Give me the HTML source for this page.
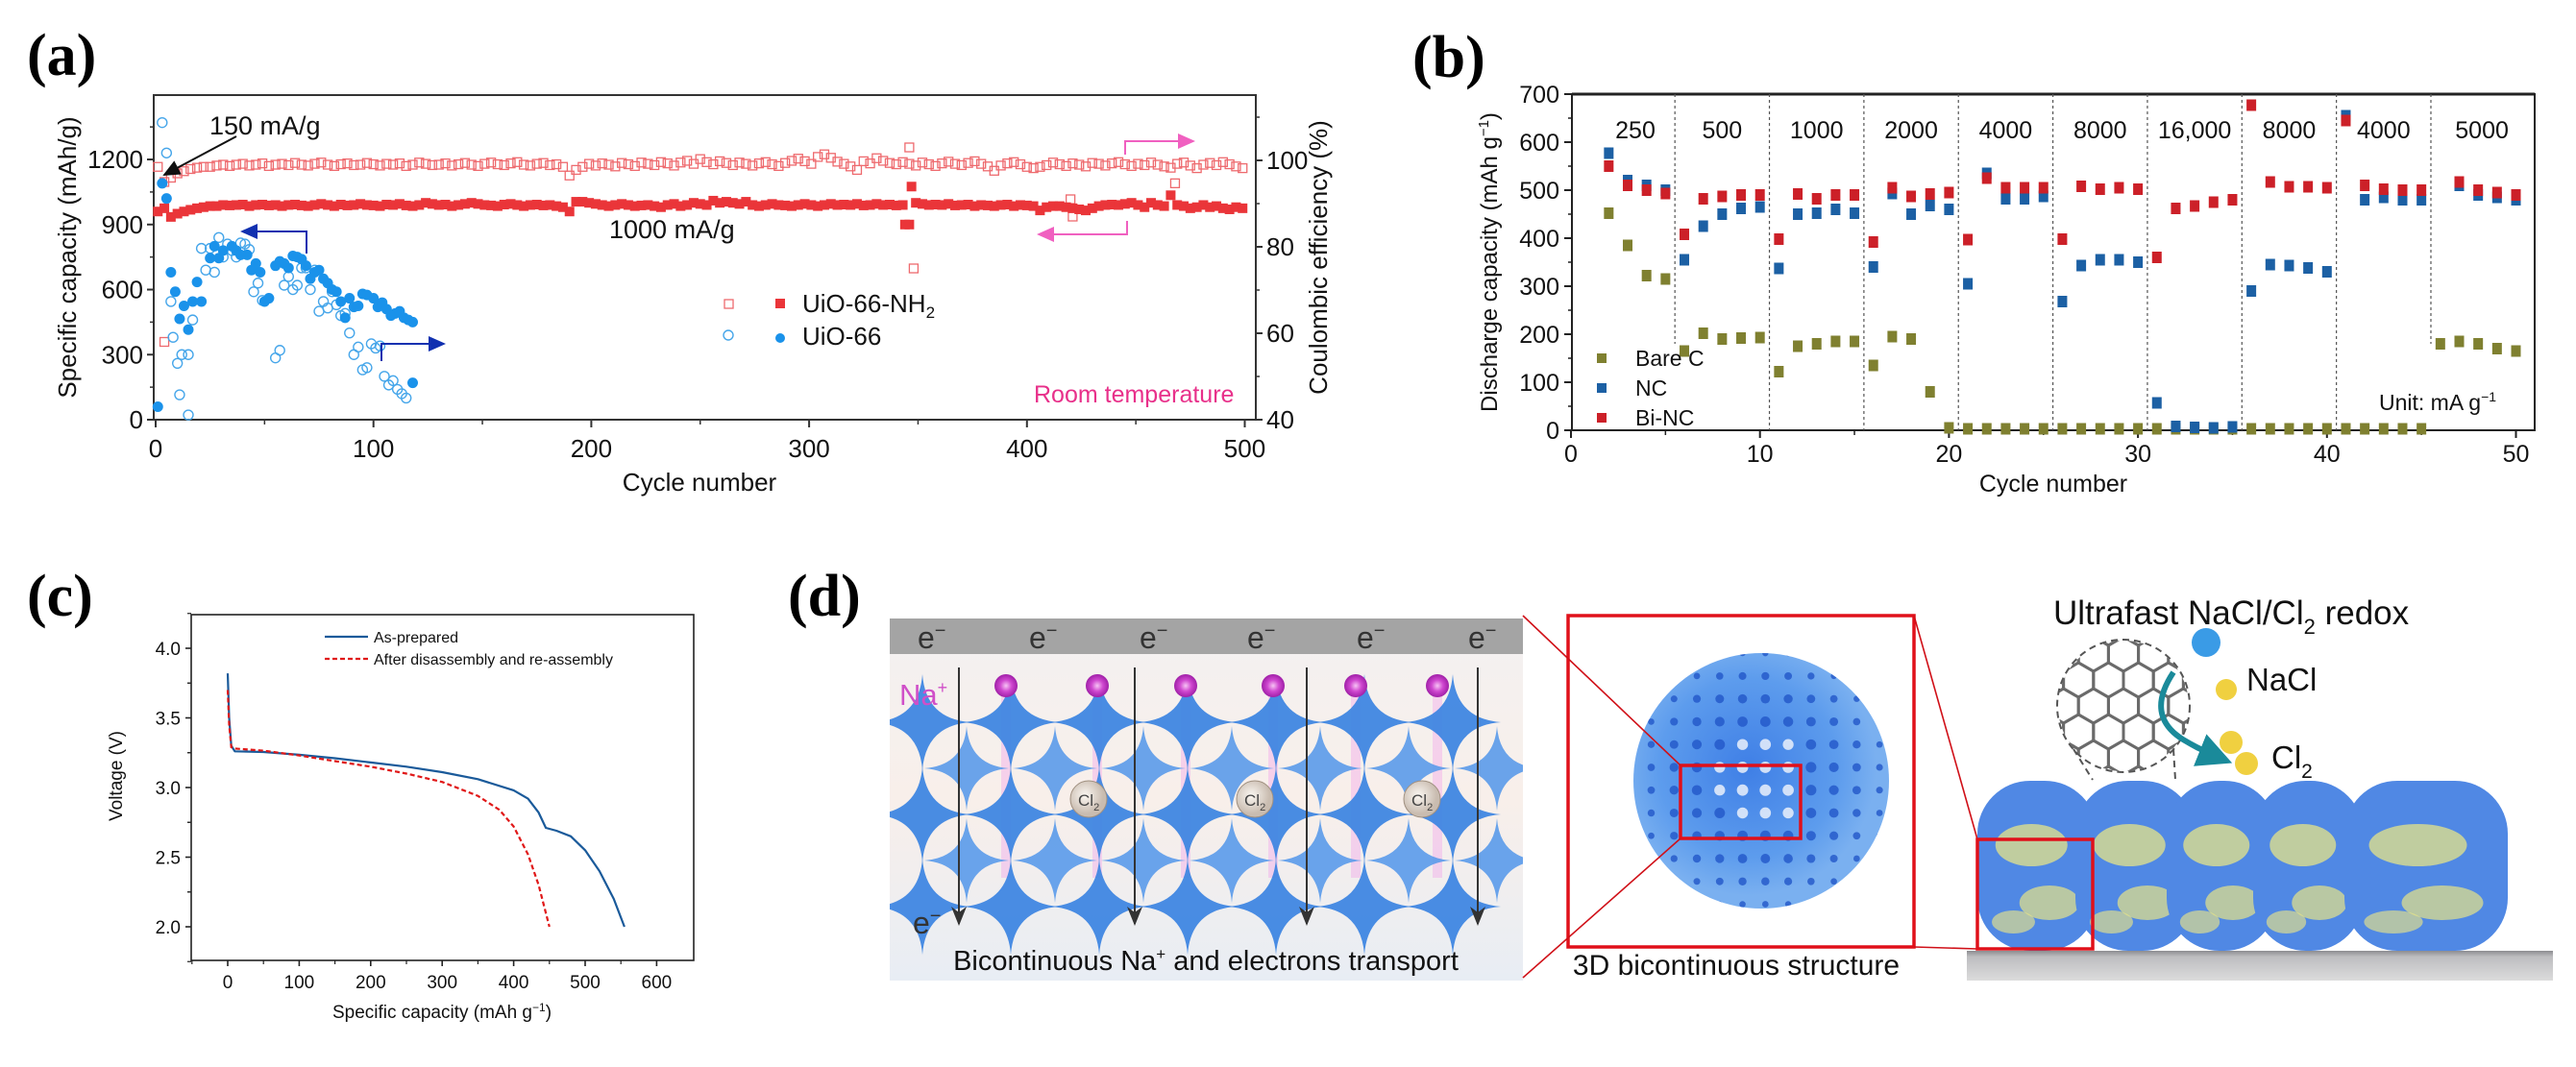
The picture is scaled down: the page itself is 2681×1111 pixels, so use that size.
<!DOCTYPE html>
<html><head><meta charset="utf-8">
<style>
html,body{margin:0;padding:0;background:#fff;}
svg{display:block;}
text{font-family:"Liberation Sans",sans-serif;}
.nar{font-family:"Liberation Sans Narrow","Liberation Sans",sans-serif;}
.lbl{font-family:"Liberation Serif",serif;font-weight:bold;font-size:62px;}
</style></head>
<body>
<svg id="fig" xmlns="http://www.w3.org/2000/svg" width="2681" height="1111" viewBox="0 0 2681 1111">
<defs>
 <linearGradient id="bgL" x1="0" y1="0" x2="0" y2="1">
  <stop offset="0" stop-color="#f3f1f1"/><stop offset="0.5" stop-color="#f8efea"/><stop offset="1" stop-color="#e8edf4"/>
 </linearGradient>
 <radialGradient id="naBall"><stop offset="0" stop-color="#f6c4f4"/><stop offset="0.5" stop-color="#d048d0"/><stop offset="1" stop-color="#a020a8"/></radialGradient>
 <radialGradient id="clBall" cx="0.4" cy="0.4"><stop offset="0" stop-color="#fbf7f2"/><stop offset="1" stop-color="#c9bcb0"/></radialGradient>
 <radialGradient id="sph" cx="0.45" cy="0.45"><stop offset="0" stop-color="#3f7fe6"/><stop offset="0.7" stop-color="#5d9ced"/><stop offset="1" stop-color="#7ab0f0"/></radialGradient>
 <linearGradient id="slab" x1="0" y1="0" x2="0" y2="1"><stop offset="0" stop-color="#8c8c90"/><stop offset="0.2" stop-color="#bdbdc0"/><stop offset="1" stop-color="#dcdcdc"/></linearGradient>
 <clipPath id="clipL"><rect x="926" y="681" width="659" height="340"/></clipPath>
 <clipPath id="clipG"><circle cx="2210" cy="735" r="68"/></clipPath>
 <clipPath id="clipS"><circle cx="1833" cy="813" r="133"/></clipPath>
 <marker id="arB" markerWidth="10" markerHeight="10" refX="8" refY="5" orient="auto"><path d="M0,1 L9,5 L0,9 Z" fill="#1030b0"/></marker>
 <marker id="arP" markerWidth="10" markerHeight="10" refX="8" refY="5" orient="auto"><path d="M0,1 L9,5 L0,9 Z" fill="#f060c0"/></marker>
 <marker id="arK" markerWidth="10" markerHeight="10" refX="8" refY="5" orient="auto"><path d="M0,1 L9,5 L0,9 Z" fill="#111"/></marker>
 <marker id="arD" markerWidth="8" markerHeight="10" refX="4" refY="9" orient="0"><path d="M0,0 L4,10 L8,0 L4,3 Z" fill="#333"/></marker>
 <marker id="arT" markerWidth="6" markerHeight="6" refX="4" refY="3" orient="auto"><path d="M0,0 L6,3 L0,6 Z" fill="#1a8a9a"/></marker>
</defs>

<text class="lbl" x="28" y="78">(a)</text>
<text class="lbl" x="1470" y="80">(b)</text>
<text class="lbl" x="28" y="641">(c)</text>
<text class="lbl" x="820" y="641">(d)</text>

<g id="pa"></g>
<g id="pb"></g>
<g id="pc"></g>

<g id="pd">
 <g>
  <rect x="926" y="644" width="659" height="377" fill="url(#bgL)"/>
  <rect x="926" y="644" width="659" height="37" fill="#a4a4a4"/>
  <g id="glow" clip-path="url(#clipL)"></g>
  <g id="stars" clip-path="url(#clipL)"></g>
  <g id="naballs"></g>
  <g id="cl2"></g>
  <g id="earrows"></g>
  <g font-size="32" fill="#333">
   <text x="955" y="675">e<tspan font-size="20" dy="-12">−</tspan></text>
   <text x="1071" y="675">e<tspan font-size="20" dy="-12">−</tspan></text>
   <text x="1186" y="675">e<tspan font-size="20" dy="-12">−</tspan></text>
   <text x="1298" y="675">e<tspan font-size="20" dy="-12">−</tspan></text>
   <text x="1412" y="675">e<tspan font-size="20" dy="-12">−</tspan></text>
   <text x="1528" y="675">e<tspan font-size="20" dy="-12">−</tspan></text>
  </g>
  <text x="936" y="734" font-size="31" fill="#d04fc8">Na<tspan font-size="18" dy="-12">+</tspan></text>
  <text x="950" y="972" font-size="32" fill="#333">e<tspan font-size="20" dy="-12">−</tspan></text>
  <text x="1255" y="1010" font-size="29" fill="#111" text-anchor="middle">Bicontinuous Na<tspan font-size="17" dy="-11">+</tspan><tspan dy="11"> and electrons transport</tspan></text>
 </g>
 <g>
  <circle cx="1833" cy="813" r="133" fill="url(#sph)"/>
  <g id="holes" clip-path="url(#clipS)"></g>
  <rect x="1632" y="641" width="360" height="345" fill="none" stroke="#e0101a" stroke-width="3.5"/>
  <rect x="1749" y="797" width="125" height="76" fill="none" stroke="#e0101a" stroke-width="3.5"/>
  <line x1="1585" y1="641" x2="1749" y2="797" stroke="#d01018" stroke-width="1.6"/>
  <line x1="1585" y1="1018" x2="1749" y2="873" stroke="#d01018" stroke-width="1.6"/>
  <text x="1807" y="1015" font-size="30" fill="#111" text-anchor="middle">3D bicontinuous structure</text>
 </g>
 <g>
  <line x1="1992" y1="641" x2="2058" y2="874" stroke="#d01018" stroke-width="1.6"/>
  <line x1="1992" y1="986" x2="2058" y2="988" stroke="#d01018" stroke-width="1.6"/>
  <polygon points="2047,990 2657,990 2657,1021 2047,1021" fill="url(#slab)"/>
  <g id="rods"></g>
  <rect x="2058" y="874" width="120" height="114" fill="none" stroke="#e0101a" stroke-width="3.5"/>
  <circle cx="2210" cy="735" r="69" fill="#fff" stroke="#555" stroke-width="2" stroke-dasharray="7,5"/>
  <g id="graph" clip-path="url(#clipG)"></g>
  <line x1="2158" y1="780" x2="2178" y2="812" stroke="#555" stroke-width="2" stroke-dasharray="7,5"/>
  <line x1="2262" y1="780" x2="2264" y2="812" stroke="#555" stroke-width="2" stroke-dasharray="7,5"/>
  <path d="M2262,700 Q2232,745 2272,770 Q2292,782 2312,790" fill="none" stroke="#1a8a9a" stroke-width="6" marker-end="url(#arT)"/>
  <circle cx="2296" cy="669" r="15" fill="#3a9be6"/>
  <circle cx="2317" cy="718" r="11" fill="#f0d040"/>
  <circle cx="2322" cy="773" r="12" fill="#f0d040"/>
  <circle cx="2338" cy="795" r="12" fill="#f0d040"/>
  <text x="2338" y="719" font-size="33" fill="#111">NaCl</text>
  <text x="2364" y="800" font-size="33" fill="#111">Cl<tspan font-size="21" dy="10">2</tspan></text>
  <text x="2137" y="650" font-size="35" fill="#111">Ultrafast NaCl/Cl<tspan font-size="22" dy="10">2</tspan><tspan dy="-10"> redox</tspan></text>
 </g>
</g>
</svg>

<script>
// ================= PANEL A DATA =================
const aCapStartCycle = 1;
const aCapStep = 3;
const aCapNH2 = [960,975,935,950,960,968,975,980,985,985,990,988,990,992,985,990,992,988,990,985,990,992,988,985,990,995,990,985,992,988,990,995,990,988,985,992,990,995,988,985,990,1000,995,990,992,985,990,995,1000,995,990,988,985,992,995,990,985,990,992,988,990,985,980,960,1005,1005,1000,995,990,985,990,995,990,985,988,990,985,980,990,995,985,990,1000,995,990,1010,1000,1005,1000,995,1005,990,985,990,995,990,988,985,990,995,990,985,990,995,990,992,990,995,988,990,995,990,992,988,990,900,1000,995,990,992,990,995,988,990,992,985,990,988,985,990,992,985,990,988,985,965,980,985,985,980,975,970,965,975,985,990,992,990,995,1000,990,980,1000,990,985,1035,990,985,975,980,990,980,985,975,970,980,975];
const aCeNH2 = [98.5,95,96,97,97.5,98,98.3,98.5,98.5,98.8,99,98.7,99,99.2,98.8,99,99.3,98.7,99,99.2,98.9,99.4,99,98.8,99.2,99.5,99,98.7,99.1,99.3,98.9,99,99.4,99.1,98.8,99.2,99,99.3,98.7,99,99.5,99.2,98.9,99,99.3,98.8,99.1,99.4,99,98.7,99.2,99.5,99.1,98.9,99.3,99.6,99,98.8,99.2,99.4,98.9,99.1,98.5,96.5,97.8,98.5,99.2,98.8,99.3,99,98.6,99.4,99.1,98.7,99.5,99.2,98.9,99.6,99.3,98.8,99.5,99.9,99.2,100.3,99.6,99.1,99.8,99.4,98.9,99.5,99.2,98.8,99.3,99.6,99.1,98.7,99.4,99.9,100.4,99.8,99.2,100.8,101.4,100.6,99.7,99.2,98.6,97.8,99.8,99.3,100.5,99.9,99.4,99.1,99.6,99.2,98.8,99.5,99.1,98.7,99.3,99.7,99.2,98.9,99.4,99.8,99.2,98.6,97.6,98.8,99.3,99.6,99.1,98.5,98.2,98.5,98.9,99.5,99.1,98.7,99.3,99,98.6,99.4,99.2,98.8,99.3,99.6,99.1,98.7,99.2,98.9,99.5,99,98.6,98.3,99.2,99.5,98.8,98.2,99.0,99.4,98.9,99.6,99.1,98.6,98.2,98.9,99.5,99.2,98.4,97.8];
const aExtraCeCycles = [4,346,348,420,421,468];
const aExtraCeValues = [58,103,75,91,87,94.7];
const aExtraCapCycles = [344,347];
const aExtraCapValues = [900,1075];
const aUioFilledCycles = [1,3,5,7,9,11,13,15,17,19,21,25,27,29,31,35,37,39,42,44,46,48,50,52,55,57,59,61,63,65,67,69,71,73,75,77,79,81,83,85,87,89,91,93,95,97,100,102,104,106,108,110,112,114,116,118,118];
const aUioFilledValues = [60,1090,1020,680,590,465,525,415,545,635,545,745,800,745,780,800,780,760,760,690,720,680,545,560,710,730,720,700,755,750,740,710,650,680,690,650,630,600,590,545,470,560,520,525,580,575,560,520,540,510,480,490,500,470,460,450,170];
const aUioOpenCycles = [3,5,7,8,10,11,12,15,15,17,21,23,25,27,29,31,33,35,37,39,41,43,45,47,49,55,57,59,61,63,65,67,69,71,73,75,77,79,81,83,85,87,89,91,93,95,97,99,101,103,105,107,109,111,113,115];
const aUioOpenValues = [1370,1230,545,380,260,115,300,300,22,460,790,690,790,680,840,750,810,780,750,815,810,785,590,630,550,285,320,620,660,600,620,700,700,600,690,500,545,515,590,530,480,490,400,300,335,230,240,350,330,340,200,160,180,140,120,100];
const aXTicks = [0,100,200,300,400,500];
const aYTicks = [0,300,600,900,1200];
const aY2Ticks = [40,60,80,100];

// ================= PANEL B DATA =================
const bCycles = [2,3,4,5,6,7,8,9,10,11,12,13,14,15,16,17,18,19,20,21,22,23,24,25,26,27,28,29,30,31,32,33,34,35,36,37,38,39,40,41,42,43,44,45,46,47,48,49,50];
const bBareC = [452,385,322,315,165,202,190,192,193,122,175,180,185,185,135,195,190,80,5,3,3,3,3,3,3,3,3,3,3,3,3,3,3,3,3,3,3,3,3,3,3,3,3,3,180,185,180,170,165];
const bNC = [577,520,510,500,355,425,450,462,465,337,450,452,460,452,340,493,450,468,460,305,535,482,482,487,268,343,355,355,350,57,8,6,5,7,290,345,343,338,330,655,480,485,480,480,null,510,490,485,480];
const bBiNC = [550,510,500,493,408,482,487,490,490,398,492,482,490,490,392,505,487,492,495,397,525,505,505,505,398,508,502,505,502,360,462,467,475,480,677,517,507,507,505,645,510,502,500,500,null,517,500,495,490];
const bRates = ["250","500","1000","2000","4000","8000","16,000","8000","4000","5000"];
const bDividers = [5.5,10.5,15.5,20.5,25.5,30.5,35.5,40.5,45.5];
const bXTicks = [0,10,20,30,40,50];
const bYTicks = [0,100,200,300,400,500,600,700];

// ================= PANEL C DATA =================
const cAsCap = [0,2,5,10,50,100,150,200,250,300,350,400,420,435,445,460,480,500,520,540,555];
const cAsV = [3.82,3.5,3.3,3.26,3.255,3.235,3.21,3.18,3.15,3.11,3.06,2.98,2.92,2.82,2.71,2.69,2.65,2.55,2.4,2.2,2.0];
const cReCap = [0,2,5,10,50,100,150,200,250,300,350,380,400,420,435,450];
const cReV = [3.7,3.45,3.29,3.28,3.265,3.23,3.19,3.15,3.1,3.04,2.94,2.84,2.72,2.52,2.3,2.0];
const cXTicks = [0,100,200,300,400,500,600];
const cYTicks = [2.0,2.5,3.0,3.5,4.0];

const NS = "http://www.w3.org/2000/svg";
function mk(tag, attrs, parent){const e=document.createElementNS(NS,tag);for(const k in attrs)e.setAttribute(k,attrs[k]);parent.appendChild(e);return e;}

// ---------- Panel A ----------
const pa = document.getElementById('pa');
const xA = c => 162 + c*2.267;
const yA = v => 437 - v*0.2258;
const yCE = p => 167 + (100-p)*4.5;
let el;
el = mk('rect',{x:160,y:99,width:1147,height:338,fill:'none',stroke:'#333','stroke-width':2},pa);


aXTicks.forEach(t=>{
  mk('line',{x1:xA(t),y1:437,x2:xA(t),y2:445,stroke:'#333','stroke-width':2},pa);
  if(t<500) mk('line',{x1:xA(t+50),y1:437,x2:xA(t+50),y2:442,stroke:'#333','stroke-width':1.5},pa);
  el = mk('text',{x:xA(t),y:476,'font-size':26,'text-anchor':'middle',class:'nar',fill:'#111'},pa);
  el.textContent=t;
  
  
});
aYTicks.forEach(t=>{
  mk('line',{x1:153,y1:yA(t),x2:160,y2:yA(t),stroke:'#333','stroke-width':2},pa);
  mk('line',{x1:156,y1:yA(t+150),x2:160,y2:yA(t+150),stroke:'#333','stroke-width':1.5},pa);
  el = mk('text',{x:149,y:yA(t)+9,'font-size':26,'text-anchor':'end',class:'nar',fill:'#111'},pa);
  el.textContent=t;
  
  
});
aY2Ticks.forEach(t=>{
  mk('line',{x1:1307,y1:yCE(t),x2:1314,y2:yCE(t),stroke:'#333','stroke-width':2},pa);
  mk('line',{x1:1307,y1:yCE(t+10),x2:1311,y2:yCE(t+10),stroke:'#333','stroke-width':1.5},pa);
  el = mk('text',{x:1318,y:yCE(t)+9,'font-size':26,class:'nar',fill:'#111'},pa);
  el.textContent=t;
  
  
});
el = mk('text',{x:728,y:511,'font-size':26,'text-anchor':'middle',class:'nar',fill:'#111'},pa);
el.textContent='Cycle number';


el = mk('text',{x:0,y:0,'font-size':26,'text-anchor':'middle',fill:'#111',transform:'translate(79,268) rotate(-90)'},pa);
el.textContent='Specific capacity (mAh/g)';


el = mk('text',{x:0,y:0,'font-size':26,'text-anchor':'middle',fill:'#111',transform:'translate(1381,268) rotate(-90)'},pa);
el.textContent='Coulombic efficiency (%)';



const gCe = mk('g',{},pa);


aCeNH2.forEach((v,i)=>{
  const c = aCapStartCycle + i*aCapStep;
  if(c>500) return;
  el = mk('rect',{x:xA(c)-4.5,y:yCE(v)-4.5,width:9,height:9,fill:'none',stroke:'#ee6a6e','stroke-width':1.3},gCe);
  
});
aExtraCeCycles.forEach((c,i)=>{
  el = mk('rect',{x:xA(c)-4.5,y:yCE(aExtraCeValues[i])-4.5,width:9,height:9,fill:'none',stroke:'#ee6a6e','stroke-width':1.3},gCe);
  
});
const gCap = mk('g',{},pa);


aCapNH2.forEach((v,i)=>{
  const c = aCapStartCycle + i*aCapStep;
  if(c>500) return;
  el = mk('rect',{x:xA(c)-5,y:yA(v)-5,width:10,height:10,fill:'#ea3539'},gCap);
  
});
aExtraCapCycles.forEach((c,i)=>{
  el = mk('rect',{x:xA(c)-5,y:yA(aExtraCapValues[i])-5,width:10,height:10,fill:'#ea3539'},gCap);
  
});
const gUo = mk('g',{},pa);


aUioOpenCycles.forEach((c,i)=>{
  el = mk('circle',{cx:xA(c),cy:yA(aUioOpenValues[i]),r:5,fill:'none',stroke:'#46a6ea','stroke-width':1.4},gUo);
  
});
const gUf = mk('g',{},pa);


aUioFilledCycles.forEach((c,i)=>{
  el = mk('circle',{cx:xA(c),cy:yA(aUioFilledValues[i]),r:5.5,fill:'#1a92ea'},gUf);
  
});
el = mk('text',{x:218,y:140,'font-size':27,class:'nar',fill:'#111'},pa);
el.textContent='150 mA/g';


mk('line',{x1:246,y1:142,x2:171,y2:182,stroke:'#111','stroke-width':2,'marker-end':'url(#arK)'},pa);
el = mk('text',{x:634,y:248,'font-size':27,class:'nar',fill:'#111'},pa);
el.textContent='1000 mA/g';


mk('path',{d:'M319,264 L319,241 L252,241',fill:'none',stroke:'#1030b0','stroke-width':2,'marker-end':'url(#arB)'},pa);
mk('path',{d:'M397,376 L397,358 L462,358',fill:'none',stroke:'#1030b0','stroke-width':2,'marker-end':'url(#arB)'},pa);
mk('path',{d:'M1171,161 L1171,147 L1242,147',fill:'none',stroke:'#f060c0','stroke-width':2,'marker-end':'url(#arP)'},pa);
mk('path',{d:'M1173,230 L1173,244 L1081,244',fill:'none',stroke:'#f060c0','stroke-width':2,'marker-end':'url(#arP)'},pa);
el = mk('text',{x:1076,y:419,'font-size':25,class:'nar',fill:'#e8308a'},pa);
el.textContent='Room temperature';


const lgA = mk('g',{},pa);


mk('rect',{x:754,y:312,width:9,height:9,fill:'none',stroke:'#ee6a6e','stroke-width':1.3},lgA);
mk('rect',{x:807,y:311,width:10,height:10,fill:'#ea3539'},lgA);
mk('circle',{cx:758,cy:349,r:5,fill:'none',stroke:'#46a6ea','stroke-width':1.4},lgA);
mk('circle',{cx:812,cy:352,r:5,fill:'#1a92ea'},lgA);
el = mk('text',{x:835,y:325,'font-size':26,class:'nar',fill:'#111'},lgA);
el.innerHTML='UiO-66-NH<tspan font-size="17" dy="6">2</tspan>';

el = mk('text',{x:835,y:359,'font-size':26,class:'nar',fill:'#111'},lgA);
el.textContent='UiO-66';


// ---------- Panel B ----------
const pb = document.getElementById('pb');
const xB = c => 1635 + c*19.67;
const yB = v => 448 - v*0.5;
el = mk('rect',{x:1636,y:98,width:1002,height:350,fill:'none',stroke:'#222','stroke-width':2},pb);


mk('line',{x1:1636,y1:98,x2:2638,y2:98,stroke:'#222','stroke-width':3},pb);
bDividers.forEach((d,i)=>{
  const bottom = (d===5.5||d===45.5)?358:448;
  el = mk('line',{x1:xB(d),y1:98,x2:xB(d),y2:bottom,stroke:'#555','stroke-width':1.2,'stroke-dasharray':'3,3'},pb);
  
});
bRates.forEach((r,i)=>{
  const lo = i===0?0.5:bDividers[i-1], hi = i===bRates.length-1?50.9:bDividers[i];
  el = mk('text',{x:xB((lo+hi)/2)+ (i===0?8:0),y:144,'font-size':25,'text-anchor':'middle',class:'nar',fill:'#111'},pb);
  el.textContent=r;
  
  
});
bXTicks.forEach(t=>{
  mk('line',{x1:xB(t),y1:448,x2:xB(t),y2:456,stroke:'#222','stroke-width':2},pb);
  if(t<50) mk('line',{x1:xB(t+5),y1:448,x2:xB(t+5),y2:453,stroke:'#222','stroke-width':1.5},pb);
  el = mk('text',{x:xB(t),y:481,'font-size':25,'text-anchor':'middle',fill:'#111'},pb);
  el.textContent=t;
  
  
});
bYTicks.forEach(t=>{
  mk('line',{x1:1628,y1:yB(t),x2:1636,y2:yB(t),stroke:'#222','stroke-width':2},pb);
  if(t<700) mk('line',{x1:1632,y1:yB(t+50),x2:1636,y2:yB(t+50),stroke:'#222','stroke-width':1.5},pb);
  el = mk('text',{x:1623,y:yB(t)+9,'font-size':25,'text-anchor':'end',class:'nar',fill:'#111'},pb);
  el.textContent=t;
  
  
});
el = mk('text',{x:2137,y:512,'font-size':25,'text-anchor':'middle',fill:'#111'},pb);
el.textContent='Cycle number';


el = mk('text',{x:0,y:0,'font-size':24,'text-anchor':'middle',fill:'#111',transform:'translate(1558,273) rotate(-90)'},pb);
el.innerHTML='Discharge capacity (mAh g<tspan font-size="15" dy="-9">−1</tspan><tspan dy="9">)</tspan>';


function bSeries(vals,color,name){
  const g = mk('g',{},pb);
  
  
  vals.forEach((v,i)=>{
    if(v===null) return;
    el = mk('rect',{x:xB(bCycles[i])-5,y:yB(v)-6,width:10,height:12,fill:color},g);
    
  });
}
bSeries(bBareC,'#7f8030','series-bare-c');
bSeries(bNC,'#1c60a4','series-nc');
bSeries(bBiNC,'#cc2028','series-bi-nc');
const lgB = mk('g',{},pb);


[['Bare C','#7f8030'],['NC','#1c60a4'],['Bi-NC','#cc2028']].forEach((p,i)=>{
  mk('rect',{x:1662,y:368+i*31,width:10,height:10,fill:p[1]},lgB);
  el = mk('text',{x:1702,y:381+i*31,'font-size':23,fill:'#111'},lgB);
  el.textContent=p[0];
  
});
el = mk('text',{x:2476,y:427,'font-size':23,fill:'#111'},pb);
el.innerHTML='Unit: mA g<tspan font-size="14" dy="-9">−1</tspan>';



// ---------- Panel C ----------
const pc = document.getElementById('pc');
const xC = v => 237 + v*0.744;
const yC = v => 965 - (v-2)*145;
el = mk('rect',{x:199,y:640,width:523,height:360,fill:'none',stroke:'#222','stroke-width':1.6},pc);


cXTicks.forEach(t=>{
  mk('line',{x1:xC(t),y1:1000,x2:xC(t),y2:1006,stroke:'#222','stroke-width':1.6},pc);
  mk('line',{x1:xC(t-50),y1:1000,x2:xC(t-50),y2:1004,stroke:'#222','stroke-width':1.2},pc);
  el = mk('text',{x:xC(t),y:1029,'font-size':19,'text-anchor':'middle',fill:'#111'},pc);
  el.textContent=t;
  
  
});
cYTicks.forEach(t=>{
  mk('line',{x1:193,y1:yC(t),x2:199,y2:yC(t),stroke:'#222','stroke-width':1.6},pc);
  mk('line',{x1:195,y1:yC(t+0.25),x2:199,y2:yC(t+0.25),stroke:'#222','stroke-width':1.2},pc);
  mk('line',{x1:195,y1:yC(t-0.25),x2:199,y2:yC(t-0.25),stroke:'#222','stroke-width':1.2},pc);
  el = mk('text',{x:188,y:yC(t)+7,'font-size':19,'text-anchor':'end',fill:'#111'},pc);
  el.textContent=t.toFixed(1);
  
  
});
el = mk('text',{x:460,y:1060,'font-size':19,'text-anchor':'middle',fill:'#111'},pc);
el.innerHTML='Specific capacity (mAh g<tspan font-size="12" dy="-7">−1</tspan><tspan dy="7">)</tspan>';


el = mk('text',{x:0,y:0,'font-size':19,'text-anchor':'middle',fill:'#111',transform:'translate(127,808) rotate(-90)'},pc);
el.textContent='Voltage (V)';


function cLine(xs,ys){return xs.map((x,i)=>(i?'L':'M')+xC(x).toFixed(1)+','+yC(ys[i]).toFixed(1)).join(' ');}
el = mk('path',{d:cLine(cAsCap,cAsV),fill:'none',stroke:'#1a5a9a','stroke-width':2.2,'stroke-linejoin':'round'},pc);


el = mk('path',{d:cLine(cReCap,cReV),fill:'none',stroke:'#e01818','stroke-width':2.2,'stroke-dasharray':'5,3'},pc);


const lgC = mk('g',{},pc);


mk('line',{x1:338,y1:663,x2:383,y2:663,stroke:'#1a5a9a','stroke-width':2.2},lgC);
mk('line',{x1:338,y1:686,x2:383,y2:686,stroke:'#e01818','stroke-width':2.2,'stroke-dasharray':'5,3'},lgC);
el = mk('text',{x:389,y:669,'font-size':16,fill:'#111'},lgC);
el.textContent='As-prepared';

el = mk('text',{x:389,y:692,'font-size':16,fill:'#111'},lgC);
el.textContent='After disassembly and re-assembly';


// ---------- Panel D decorative ----------
const stars = document.getElementById('stars');
function star(cx,cy,r){const k=r*0.07;return `M${cx},${cy-r} Q${cx+k},${cy-k} ${cx+r},${cy} Q${cx+k},${cy+k} ${cx},${cy+r} Q${cx-k},${cy+k} ${cx-r},${cy} Q${cx-k},${cy-k} ${cx},${cy-r} Z`;}
for(let x=960;x<1600;x+=92){
  [752,848,944].forEach(y=>{ el=mk('path',{d:star(x,y,50),fill:'#3f86e2',opacity:0.95},stars);  });
  [800,896].forEach(y=>{ el=mk('path',{d:star(x+46,y,44),fill:'#5a9aea',opacity:0.9},stars);  });
}
const glow = document.getElementById('glow');
const naXs=[1047,1142,1234,1325,1411,1496];
naXs.forEach(x=>{ mk('rect',{x:x-5,y:714,width:10,height:200,fill:'#f080e8',opacity:0.28},glow); });
const nab = document.getElementById('naballs');
naXs.forEach(x=>{ el=mk('circle',{cx:x,cy:714,r:12,fill:'url(#naBall)'},nab);  });
const cl2 = document.getElementById('cl2');
[1133,1306,1480].forEach(x=>{
  el=mk('circle',{cx:x,cy:832,r:19,fill:'url(#clBall)',stroke:'#a09080','stroke-width':1},cl2);
  
  el=mk('text',{x:x-11,y:839,'font-size':17,fill:'#444'},cl2);
  el.innerHTML='Cl<tspan font-size="11" dy="5">2</tspan>';
});
const ear = document.getElementById('earrows');
[998,1181,1360,1538].forEach(x=>{ el=mk('line',{x1:x,y1:695,x2:x,y2:962,stroke:'#333','stroke-width':2,'marker-end':'url(#arD)'},ear);  });
const holes = document.getElementById('holes');
for(let y=690;y<950;y+=22){for(let x=1705;x<1965;x+=22){
  const dx=x-1833, dy=y-813, d=Math.sqrt(dx*dx+dy*dy)/133;
  const r = 6*(1-0.55*d*d);
  if(r>1.5){ mk('circle',{cx:x+dx*0.08,cy:y+dy*0.08,r:r,fill: d<0.35?'#f4f6fb':'#2256c8',opacity:0.8},holes); }
}}
const rods = document.getElementById('rods');
[[2058,125],[2160,125],[2255,115],[2345,115],[2440,170]].forEach((p,i)=>{
  el=mk('rect',{x:p[0],y:813,width:p[1],height:177,rx:55,ry:55,fill:'#5088e4'},rods);
  
  mk('ellipse',{cx:p[0]+p[1]*0.45,cy:880,rx:p[1]*0.3,ry:22,fill:'#e6e488',opacity:0.75},rods);
  mk('ellipse',{cx:p[0]+p[1]*0.6,cy:940,rx:p[1]*0.25,ry:18,fill:'#e6e488',opacity:0.7},rods);
  mk('ellipse',{cx:p[0]+p[1]*0.3,cy:960,rx:p[1]*0.18,ry:12,fill:'#e6e488',opacity:0.65},rods);
});
const graph = document.getElementById('graph');
const hs=18, hw=hs*Math.sqrt(3);
for(let row=-4;row<=4;row++){for(let col=-4;col<=4;col++){
  const cx=2210+col*hw+(row%2?hw/2:0), cy=735+row*hs*1.5;
  let d='';for(let k=0;k<6;k++){const a=Math.PI/6+k*Math.PI/3;d+=(k?'L':'M')+(cx+hs*Math.cos(a)).toFixed(1)+','+(cy+hs*Math.sin(a)).toFixed(1);}
  mk('path',{d:d+'Z',fill:'none',stroke:'#6a6a6a','stroke-width':3},graph);
}}
</script>
</body></html>
